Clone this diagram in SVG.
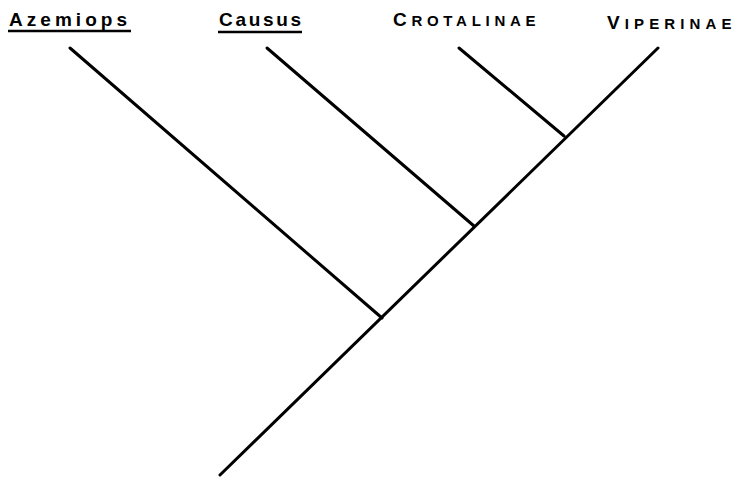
<svg xmlns="http://www.w3.org/2000/svg" width="736" height="477" viewBox="0 0 736 477">
<style>
.lbl{font-family:"Liberation Sans",Arial,sans-serif;fill:#000;}
.name{font-size:19px;font-weight:bold;}
.sc{font-size:15px;font-weight:bold;letter-spacing:1.5px;}
.sc .big{font-size:19px;}
.edge{stroke:#000;stroke-width:3;fill:none;stroke-linecap:round;}
.ul{stroke:#000;stroke-width:2.5;}
</style>
<rect width="736" height="477" fill="#fff"/>
<g id="connectors">
<line class="edge" x1="220" y1="475" x2="658" y2="48"/>
<line class="edge" x1="70" y1="48" x2="382" y2="318"/>
<line class="edge" x1="267" y1="48" x2="474" y2="226"/>
<line class="edge" x1="459" y1="48" x2="564" y2="136"/>
</g>
<g id="azemiops">
<text class="lbl name" x="9" y="26" textLength="118">Azemiops</text>
<line class="ul" x1="8" y1="31" x2="131" y2="31"/>
</g>
<g id="causus">
<text class="lbl name" x="219" y="26" textLength="82">Causus</text>
<line class="ul" x1="218" y1="32" x2="302" y2="32"/>
</g>
<g id="crotalinae">
<text class="lbl sc" x="393" y="26" textLength="144"><tspan class="big">C</tspan>ROTALINAE</text>
</g>
<g id="viperinae">
<text class="lbl sc" x="607" y="29" textLength="126"><tspan class="big">V</tspan>IPERINAE</text>
</g>
</svg>
